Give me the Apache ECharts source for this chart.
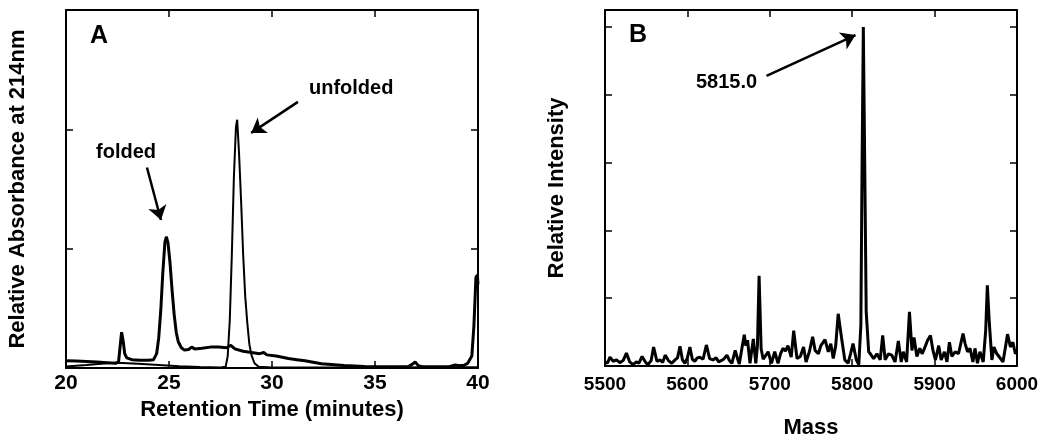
<!DOCTYPE html>
<html>
<head>
<meta charset="utf-8">
<style>
html, body { margin: 0; padding: 0; background: #fff; }
#chart { width: 1050px; height: 444px; }
</style>
</head>
<body>
<div id="chart"></div>
<script src="https://cdn.jsdelivr.net/npm/echarts@6/dist/echarts.min.js"></script>
<script>
// panel A: HPLC traces (retention time in minutes, relative absorbance)
var foldedTime = [20.0, 20.5, 21.0, 21.5, 22.0, 22.4, 22.55, 22.65, 22.7, 22.78, 22.85, 22.95, 23.2, 23.6, 24.0, 24.25, 24.4, 24.5, 24.6, 24.7, 24.8, 24.87, 24.95, 25.05, 25.15, 25.25, 25.35, 25.45, 25.6, 25.75, 25.95, 26.1, 26.25, 26.6, 27.0, 27.4, 27.8, 28.0, 28.2, 28.6, 29.0, 29.4, 29.6, 29.75, 30.2, 30.8, 31.2, 31.6, 32.4, 33.5, 34.5, 35.5, 36.6, 36.8, 36.95, 37.1, 37.3, 38.6, 38.9, 39.1, 39.3, 39.5, 39.7, 39.8, 39.9, 39.97, 40.0];
var foldedAbs = [0.06, 0.058, 0.055, 0.05, 0.045, 0.04, 0.05, 0.22, 0.30, 0.22, 0.12, 0.085, 0.07, 0.065, 0.065, 0.07, 0.12, 0.25, 0.48, 0.80, 1.05, 1.10, 1.05, 0.88, 0.65, 0.45, 0.30, 0.22, 0.17, 0.15, 0.155, 0.175, 0.16, 0.165, 0.175, 0.175, 0.17, 0.19, 0.16, 0.14, 0.13, 0.12, 0.13, 0.11, 0.10, 0.08, 0.07, 0.06, 0.035, 0.02, 0.012, 0.01, 0.01, 0.03, 0.05, 0.02, 0.01, 0.01, 0.025, 0.02, 0.02, 0.04, 0.10, 0.35, 0.76, 0.78, 0.70];

var unfoldedTime = [20.0, 21.0, 22.0, 22.5, 23.5, 24.5, 25.5, 26.5, 27.5, 27.75, 27.85, 27.95, 28.05, 28.15, 28.25, 28.31, 28.4, 28.5, 28.6, 28.7, 28.8, 28.9, 29.0, 29.15, 29.35, 30.0, 32.0, 35.0, 38.0, 40.0];
var unfoldedAbs = [0.012, 0.025, 0.04, 0.045, 0.035, 0.025, 0.015, 0.008, 0.005, 0.01, 0.10, 0.40, 0.95, 1.60, 2.02, 2.08, 1.80, 1.40, 0.95, 0.60, 0.38, 0.20, 0.11, 0.04, 0.01, 0.005, 0.004, 0.005, 0.006, 0.006];

// panel B: mass spectrum
var massValues = [5500, 5503, 5506, 5510, 5514, 5518, 5522, 5526, 5530, 5534, 5538, 5541, 5545, 5549, 5552, 5556, 5559, 5563, 5567, 5570, 5573, 5577, 5581, 5585, 5588, 5591, 5594, 5597, 5600, 5603, 5606, 5609, 5612, 5615, 5619, 5623, 5627, 5631, 5635, 5638, 5640, 5644, 5648, 5651, 5654, 5658, 5661, 5663, 5666, 5669, 5671, 5673, 5676, 5680, 5683, 5685, 5687, 5689.5, 5692, 5694, 5698, 5702, 5706, 5710, 5713, 5716, 5719, 5722, 5726, 5729, 5733, 5737, 5741, 5744, 5748, 5752, 5755, 5759, 5762, 5764, 5767, 5771, 5774, 5777, 5780, 5783, 5787, 5791, 5795, 5798, 5801, 5805, 5808, 5810.5, 5812, 5813.5, 5815, 5817, 5820, 5822, 5826, 5830, 5834, 5837, 5840, 5844, 5848, 5852, 5856, 5859.5, 5862, 5866, 5869.5, 5872.5, 5875, 5878.5, 5882, 5885, 5889, 5891.5, 5895, 5898, 5901, 5905, 5908, 5912, 5915, 5918, 5921, 5925, 5929, 5934.5, 5937, 5940, 5943, 5946.5, 5949, 5952, 5955, 5959, 5962, 5964, 5966.5, 5969.5, 5972, 5975.5, 5980, 5983, 5986, 5988.5, 5992, 5995, 5998, 6000];
var intensity = [0.06, 0.04, 0.13, 0.07, 0.09, 0.05, 0.08, 0.19, 0.06, 0.02, 0.06, 0.04, 0.14, 0.06, 0.02, 0.08, 0.28, 0.07, 0.09, 0.05, 0.16, 0.08, 0.04, 0.09, 0.12, 0.29, 0.09, 0.04, 0.12, 0.28, 0.10, 0.07, 0.12, 0.13, 0.10, 0.31, 0.11, 0.09, 0.12, 0.06, 0.04, 0.10, 0.16, 0.08, 0.04, 0.23, 0.10, 0.03, 0.25, 0.46, 0.30, 0.38, 0.04, 0.40, 0.04, 0.30, 1.33, 0.25, 0.10, 0.09, 0.21, 0.04, 0.21, 0.04, 0.18, 0.26, 0.22, 0.30, 0.13, 0.52, 0.11, 0.14, 0.28, 0.06, 0.21, 0.43, 0.23, 0.18, 0.30, 0.28, 0.39, 0.21, 0.33, 0.11, 0.30, 0.77, 0.42, 0.09, 0.04, 0.18, 0.33, 0.09, 0.02, 0.6, 3.0, 5.0, 3.2, 0.8, 0.21, 0.18, 0.11, 0.18, 0.09, 0.45, 0.09, 0.18, 0.16, 0.06, 0.37, 0.06, 0.21, 0.06, 0.80, 0.23, 0.42, 0.14, 0.26, 0.18, 0.30, 0.38, 0.45, 0.23, 0.09, 0.30, 0.09, 0.21, 0.06, 0.35, 0.14, 0.21, 0.18, 0.48, 0.33, 0.21, 0.26, 0.06, 0.26, 0.04, 0.21, 0.06, 0.52, 1.19, 0.62, 0.09, 0.28, 0.18, 0.11, 0.06, 0.28, 0.47, 0.28, 0.35, 0.18, 0.21];

function pairs(xs, ys) {
	var out = [];
	for (var i = 0; i < xs.length; i++) out.push([xs[i], ys[i]]);
	return out;
}

var FONT = 'Liberation Sans, Arial, sans-serif';
var black = '#000';

function frameAxis(extra) {
	var a = {
		axisLine: { show: true, onZero: false, lineStyle: { color: black, width: 2 } },
		axisTick: { show: true, inside: true, length: 7, lineStyle: { color: black, width: 1.5 } },
		axisLabel: { show: false },
		splitLine: { show: false }
	};
	for (var k in extra) a[k] = extra[k];
	return a;
}

var arrowLine = {
	silent: true,
	symbol: ['none', 'arrow'],
	symbolSize: 14,
	label: { show: false },
	lineStyle: { color: black, width: 2.5, type: 'solid' },
	emphasis: { disabled: true }
};

var myChart = echarts.init(document.getElementById('chart'));
var option = {
	animation: false,
	backgroundColor: '#fff',
	textStyle: { fontFamily: FONT },
	grid: [
		{ left: 66, top: 10, width: 412, height: 358 },
		{ left: 605, top: 10, width: 412, height: 363 }
	],
	xAxis: [
		frameAxis({ gridIndex: 0, type: 'value', min: 20, max: 40, interval: 5,
			name: 'Retention Time (minutes)', nameLocation: 'middle', nameGap: 31,
			nameTextStyle: { fontSize: 22, fontWeight: 'bold', color: black, fontFamily: FONT },
			axisLabel: { show: true, fontSize: 21, fontWeight: 'bold', color: black, margin: 5, fontFamily: FONT } }),
		frameAxis({ gridIndex: 0, type: 'value', min: 20, max: 40, interval: 5, position: 'top' }),
		frameAxis({ gridIndex: 1, type: 'value', min: 5500, max: 6000, interval: 100,
			name: 'Mass', nameLocation: 'middle', nameGap: 51,
			nameTextStyle: { fontSize: 22, fontWeight: 'bold', color: black, fontFamily: FONT },
			axisLabel: { show: true, fontSize: 19, fontWeight: 'bold', color: black, margin: 9, fontFamily: FONT,
				formatter: function (v) { return String(v); } } }),
		frameAxis({ gridIndex: 1, type: 'value', min: 5500, max: 6000, interval: 100, position: 'top' })
	],
	yAxis: [
		frameAxis({ gridIndex: 0, type: 'value', min: 0, max: 3, interval: 1,
			name: 'Relative Absorbance at 214nm', nameLocation: 'middle', nameGap: 37,
			nameTextStyle: { fontSize: 22, fontWeight: 'bold', color: black, fontFamily: FONT } }),
		frameAxis({ gridIndex: 0, type: 'value', min: 0, max: 3, interval: 1, position: 'right' }),
		frameAxis({ gridIndex: 1, type: 'value', min: 0, max: 5.25, interval: 1,
			name: 'Relative Intensity', nameLocation: 'middle', nameGap: 37,
			nameTextStyle: { fontSize: 22, fontWeight: 'bold', color: black, fontFamily: FONT } }),
		frameAxis({ gridIndex: 1, type: 'value', min: 0, max: 5.25, interval: 1, position: 'right' })
	],
	series: [
		{
			name: 'folded', type: 'line', xAxisIndex: 0, yAxisIndex: 0,
			data: pairs(foldedTime, foldedAbs), showSymbol: false, smooth: false,
			lineStyle: { color: black, width: 3 },
			markLine: Object.assign({
				data: [
					[{ coord: [23.93, 1.68] }, { coord: [24.61, 1.24] }],
					[{ coord: [31.26, 2.23] }, { coord: [28.99, 1.97] }]
				]
			}, arrowLine)
		},
		{
			name: 'unfolded', type: 'line', xAxisIndex: 0, yAxisIndex: 0,
			data: pairs(unfoldedTime, unfoldedAbs), showSymbol: false,
			lineStyle: { color: black, width: 2 }
		},
		{
			name: 'mass', type: 'line', xAxisIndex: 2, yAxisIndex: 2,
			data: pairs(massValues, intensity), showSymbol: false,
			lineStyle: { color: black, width: 3 },
			markLine: Object.assign({
				data: [
					[{ coord: [5696, 4.28] }, { coord: [5804, 4.88] }]
				]
			}, arrowLine)
		}
	],
	graphic: [
		{ type: 'text', left: 90, top: 24, style: { text: 'A', font: 'bold 25px ' + FONT, fill: black } },
		{ type: 'text', left: 629, top: 23, style: { text: 'B', font: 'bold 25px ' + FONT, fill: black } },
		{ type: 'text', left: 96, top: 142, style: { text: 'folded', font: 'bold 20px ' + FONT, fill: black } },
		{ type: 'text', left: 309, top: 78, style: { text: 'unfolded', font: 'bold 20px ' + FONT, fill: black } },
		{ type: 'text', left: 696, top: 72, style: { text: '5815.0', font: 'bold 20px ' + FONT, fill: black } }
	]
};
myChart.setOption(option);
</script>
</body>
</html>
